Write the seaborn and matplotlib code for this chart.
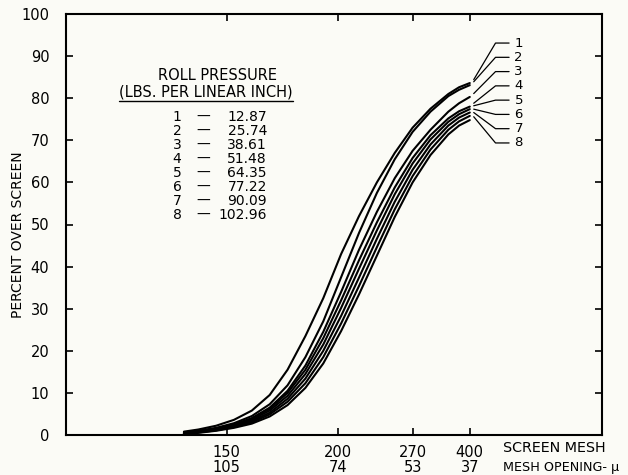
import numpy as np
import pandas as pd
import matplotlib
matplotlib.use("Agg")
import matplotlib.pyplot as plt
import seaborn as sns

# ---- data ----
openings = [117, 113, 108, 103, 98, 93, 88, 83, 78, 73, 68, 63, 58, 53, 48, 43, 40, 37]
c1 = [0.8, 1.3, 2.2, 3.6, 5.8, 9.5, 15.5, 23.5, 32.5, 43.0, 52.0, 60.0, 67.0, 73.0, 77.5, 81.0, 82.6, 83.6]
c2 = [0.6, 1.0, 1.7, 2.8, 4.5, 7.3, 11.8, 18.5, 27.0, 37.5, 48.0, 57.5, 65.5, 72.0, 76.8, 80.5, 82.0, 83.1]
c3 = [0.5, 0.9, 1.5, 2.5, 4.0, 6.5, 10.5, 16.5, 24.5, 34.0, 44.0, 53.0, 61.0, 67.5, 72.5, 76.8, 78.8, 80.3]
c4 = [0.5, 0.8, 1.4, 2.4, 3.9, 6.2, 10.0, 15.5, 23.0, 32.0, 41.5, 50.5, 58.8, 65.8, 71.2, 75.2, 76.9, 78.0]
c5 = [0.4, 0.8, 1.3, 2.2, 3.6, 5.8, 9.3, 14.5, 21.5, 30.2, 39.5, 48.6, 57.2, 64.5, 70.2, 74.4, 76.2, 77.4]
c6 = [0.4, 0.7, 1.2, 2.0, 3.3, 5.3, 8.6, 13.4, 20.0, 28.3, 37.4, 46.6, 55.4, 63.0, 69.0, 73.5, 75.4, 76.6]
c7 = [0.3, 0.6, 1.1, 1.9, 3.0, 4.9, 7.9, 12.3, 18.5, 26.5, 35.4, 44.6, 53.6, 61.5, 67.8, 72.5, 74.5, 75.8]
c8 = [0.3, 0.5, 1.0, 1.7, 2.7, 4.4, 7.1, 11.2, 17.0, 24.7, 33.4, 42.6, 51.8, 60.0, 66.5, 71.4, 73.5, 74.8]
curves = [c1, c2, c3, c4, c5, c6, c7, c8]
curve_ids = ["1", "2", "3", "4", "5", "6", "7", "8"]
pressures = ["12.87", "25.74", "38.61", "51.48", "64.35", "77.22", "90.09", "102.96"]

mesh_labels = ["150", "200", "270", "400"]
mesh_openings = [105, 74, 53, 37]
y_ticks = [0, 10, 20, 30, 40, 50, 60, 70, 80, 90, 100]

rows = []
for cid, vals in zip(curve_ids, curves):
    for o, v in zip(openings, vals):
        rows.append({"curve": cid, "opening": o, "percent": v})
df = pd.DataFrame(rows)

# ---- style ----
sns.set_style("ticks")
plt.rcParams["font.family"] = ["DejaVu Sans"]
plt.rcParams["text.color"] = "black"
plt.rcParams["axes.labelcolor"] = "black"
plt.rcParams["xtick.color"] = "black"
plt.rcParams["ytick.color"] = "black"
plt.rcParams["lines.solid_joinstyle"] = "round"
bg = "#fbfbf6"

fig = plt.figure(figsize=(6.28, 4.75), dpi=100, facecolor=bg)
ax = fig.add_axes([66 / 628, 40 / 475, 536 / 628, 421 / 475], facecolor=bg)

sns.lineplot(data=df, x="opening", y="percent", hue="curve",
             palette=["black"] * 8, legend=False, linewidth=1.5, ax=ax,
             estimator=None)

ax.set_xlim(150, 0)
ax.set_ylim(0, 100)

for s in ax.spines.values():
    s.set_visible(True)
    s.set_linewidth(1.5)
    s.set_color("black")

ax.set_yticks(y_ticks)
ax.set_yticklabels([str(t) for t in y_ticks])
ax.set_xticks(mesh_openings)
ax.set_xticklabels(mesh_labels)
ax.tick_params(axis="both", direction="in", length=5, width=1.2, colors="black",
               labelcolor="black", labelsize=10.5, top=True, right=True)
ax.tick_params(axis="y", pad=12)
ax.tick_params(axis="x", pad=7)
ax.set_xlabel("")
ax.set_ylabel("PERCENT OVER SCREEN", fontsize=10, color="black")
ax.yaxis.set_label_coords(-0.077, 0.475)

# second row of x labels (mesh opening)
trans = matplotlib.transforms.blended_transform_factory(ax.transData, ax.transAxes)
for o in mesh_openings:
    ax.text(o, -0.078, str(o), transform=trans, ha="center", va="center", fontsize=10.5)
fig.text(503 / 628, 1 - 448 / 475, "SCREEN MESH", ha="left", va="center", fontsize=10.3)
fig.text(503 / 628, 1 - 468 / 475, "MESH OPENING- μ", ha="left", va="center", fontsize=9.2)

# legend block
ax.text(0.282, 0.853, "ROLL PRESSURE", transform=ax.transAxes, ha="center",
        va="center", fontsize=10.5)
t2 = ax.text(0.261, 0.815, "(LBS. PER LINEAR INCH)", transform=ax.transAxes,
             ha="center", va="center", fontsize=10.5)
for i, (cid, p) in enumerate(zip(curve_ids, pressures)):
    yy = 0.755 - 0.0333 * i
    ax.text(0.207, yy, cid, transform=ax.transAxes, ha="center", va="center", fontsize=10)
    ax.text(0.256, yy, "—", transform=ax.transAxes, ha="center", va="center", fontsize=10)
    ax.text(0.375, yy, p, transform=ax.transAxes, ha="right", va="center", fontsize=10)

fig.canvas.draw()
bb = t2.get_window_extent().transformed(ax.transAxes.inverted())
ax.plot([bb.x0, bb.x1], [bb.y0 - 0.004, bb.y0 - 0.004], transform=ax.transAxes,
        color="black", lw=1.0)

# curve labels with leader lines
end_open = openings[-1]
for i, (cid, vals) in enumerate(zip(curve_ids, curves)):
    ly = 93.1 - 3.39 * i
    sy = vals[-1] + 0.8
    ax.plot([end_open - 1.1, end_open - 7.2, end_open - 11.0], [sy, ly, ly],
            color="black", lw=0.9, clip_on=False)
    ax.text(end_open - 12.5, ly, cid, ha="left", va="center", fontsize=9.5)

fig.savefig("out.png", dpi=100, facecolor=bg)
